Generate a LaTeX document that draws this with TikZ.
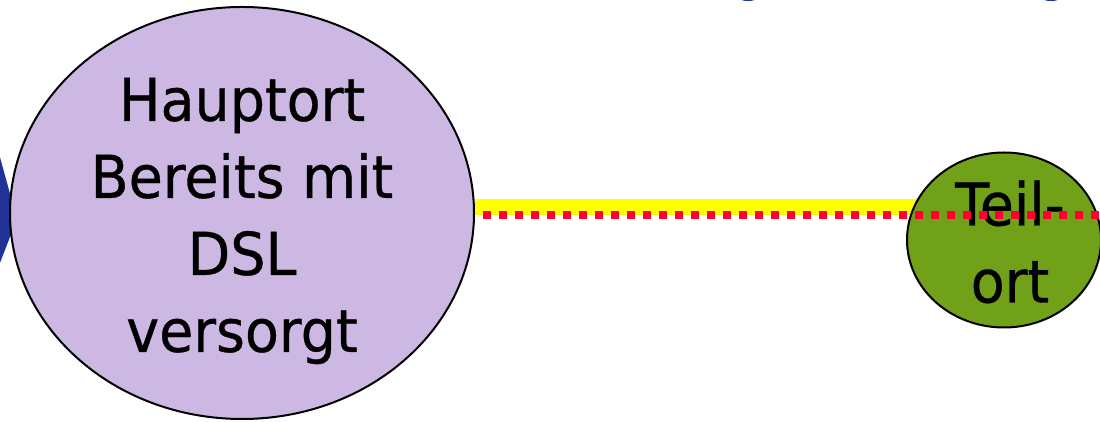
\documentclass[tikz,border=0pt]{standalone}
\usepackage{fontspec}
\newfontfamily\ortfont[FakeStretch=0.94, FakeBold=0.6]{DejaVu Sans}
\usetikzlibrary{backgrounds, shapes.geometric}
\definecolor{hauptc}{RGB}{205,184,227}
\definecolor{teilc}{RGB}{113,161,25}
\definecolor{gelbc}{RGB}{255,255,0}
\definecolor{rotc}{RGB}{255,0,51}
\definecolor{blauc}{RGB}{33,51,153}
\tikzset{
  ort/.style={ellipse, draw=black, line width=2pt, fill=#1, inner sep=0pt},
  ort/.default=hauptc,
  ortname/.style={align=center, inner sep=0pt, font={\ortfont\fontsize{59}{77}\selectfont}},
  gelbkabel/.style={gelbc, line width=16pt},
  rotkabel/.style={rotc, line width=8pt, dash pattern=on 8pt off 8pt, dash phase=8pt},
}

\begin{document}
\begin{tikzpicture}[x=1pt, y=1pt]
  \clip (0,0) rectangle (1100,422);
  % blue arrow tip at the left edge
  \fill[blauc] (-2,272) -- (17,203) -- (-2,154) -- cycle;
  % cut-off letters at the top
  \fill[blauc] (748,424) ellipse (9 and 3);
  \fill[blauc] (1051,424) ellipse (9 and 3);

  % places
  \node[ort, minimum width=464pt, minimum height=412pt] (haupt) at (242,209) {};
  \node[ortname] (hauptname) at ([yshift=-8pt]haupt.center)
    {Hauptort\\Bereits mit\\DSL\\versorgt};
  \node[ort=teilc, minimum width=194pt, minimum height=175pt] (teil) at (1004,182) {};
  \node[ortname] (teilname) at ([xshift=6pt, yshift=-2pt]teil.center) {Teil-\\ort};
  \coordinate (rand) at (1100,207);

  % cable: yellow behind the small place, red dots on top
  \begin{scope}[on background layer]
    \draw[gelbkabel] ([yshift=6pt]haupt.east) -- ([yshift=6pt]haupt.east -| teil.center);
  \end{scope}
  \draw[rotkabel] ([yshift=-2pt]haupt.east) -- (rand);
\end{tikzpicture}
\end{document}
